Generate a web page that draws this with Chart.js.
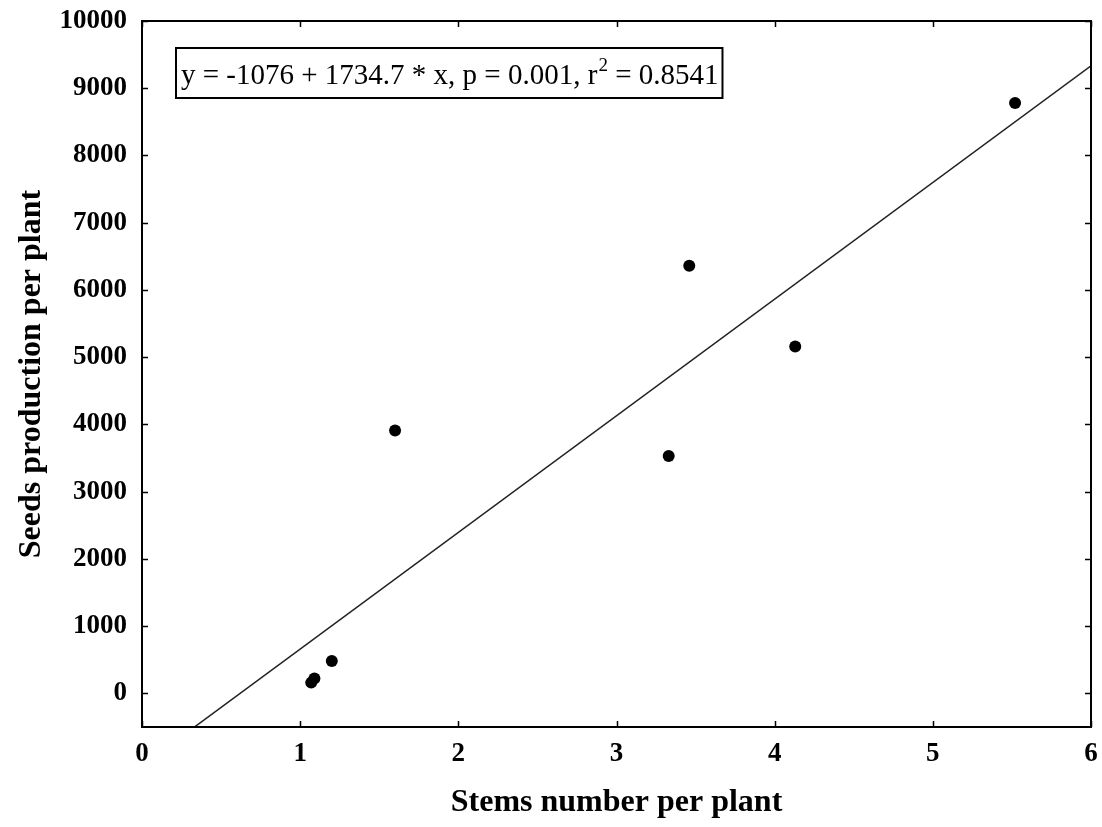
<!DOCTYPE html>
<html>
<head>
<meta charset="utf-8">
<script src="https://cdn.jsdelivr.net/npm/chart.js@4/dist/chart.umd.min.js"></script>
<style>
  html, body { margin: 0; padding: 0; background: #fff; }
  #wrap { width: 1102px; height: 827px; }
</style>
</head>
<body>
<div id="wrap"><canvas id="c" width="1102" height="827"></canvas></div>
<script>
// Observed data
const stems = [1.07, 1.09, 1.20, 1.60, 3.33, 3.46, 4.13, 5.52];
const seeds = [160, 220, 480, 3910, 3530, 6360, 5160, 8780];

// Regression line endpoints (y = -1076 + 1734.7 * x)
const fitX = [0, 6];
const fitY = [-1076, 9332];

// Axis tick values
const xTicks = [0, 1, 2, 3, 4, 5, 6];
const yTicks = [0, 1000, 2000, 3000, 4000, 5000, 6000, 7000, 8000, 9000, 10000];

// Texts
const xTitle = 'Stems number per plant';
const yTitle = 'Seeds production per plant';
const eqPart1 = 'y = -1076 + 1734.7 * x, p = 0.001, r';
const eqSup = '2';
const eqPart2 = ' = 0.8541';

const serif = '"Liberation Serif", "Times New Roman", serif';

const framePlugin = {
  id: 'framePlugin',
  afterDatasetsDraw(chart) {
    const { ctx, chartArea: a, scales: { x, y } } = chart;
    ctx.save();
    ctx.strokeStyle = '#000';
    ctx.lineWidth = 1.5;
    x.ticks.forEach(t => {
      const px = Math.round(x.getPixelForValue(t.value)) + 0.5;
      ctx.beginPath();
      ctx.moveTo(px, a.bottom); ctx.lineTo(px, a.bottom - 6);
      ctx.moveTo(px, a.top); ctx.lineTo(px, a.top + 6);
      ctx.stroke();
    });
    y.ticks.forEach(t => {
      const py = Math.round(y.getPixelForValue(t.value)) + 0.5;
      ctx.beginPath();
      ctx.moveTo(a.left, py); ctx.lineTo(a.left + 6, py);
      ctx.moveTo(a.right, py); ctx.lineTo(a.right - 6, py);
      ctx.stroke();
    });
    ctx.lineWidth = 2;
    ctx.strokeRect(a.left, a.top, a.right - a.left, a.bottom - a.top);

    // equation box
    const bx = a.left + 34, by = a.top + 27;
    const tx = bx + 5, ty = by + 36;
    ctx.fillStyle = '#000';
    ctx.textBaseline = 'alphabetic';
    ctx.textAlign = 'left';
    ctx.font = '29px ' + serif;
    const w1 = ctx.measureText(eqPart1).width;
    ctx.fillText(eqPart1, tx, ty);
    ctx.font = '19px ' + serif;
    const ws = ctx.measureText(eqSup).width;
    ctx.fillText(eqSup, tx + w1 + 1, ty - 13);
    ctx.font = '29px ' + serif;
    const w2 = ctx.measureText(eqPart2).width;
    ctx.fillText(eqPart2, tx + w1 + 1 + ws, ty);
    const bw = (tx + w1 + 1 + ws + w2 + 4) - bx;
    ctx.lineWidth = 2;
    ctx.strokeRect(bx, by, bw, 50);
    ctx.restore();
  }
};

new Chart(document.getElementById('c'), {
  type: 'scatter',
  data: {
    datasets: [
      {
        label: 'fit',
        data: fitX.map((v, i) => ({ x: v, y: fitY[i] })),
        showLine: true,
        borderColor: '#222',
        borderWidth: 1.5,
        pointRadius: 0,
        pointHoverRadius: 0,
        fill: false
      },
      {
        label: 'data',
        data: stems.map((v, i) => ({ x: v, y: seeds[i] })),
        pointRadius: 6,
        pointBackgroundColor: '#000',
        pointBorderColor: '#000',
        pointBorderWidth: 0
      }
    ]
  },
  options: {
    responsive: false,
    animation: false,
    events: [],
    layout: { padding: { top: 21, right: 11, left: 0, bottom: 0 } },
    plugins: { legend: { display: false }, tooltip: { enabled: false } },
    scales: {
      x: {
        type: 'linear',
        min: 0, max: 6,
        afterBuildTicks: s => { s.ticks = xTicks.map(v => ({ value: v })); },
        afterFit: s => { s.height = 100; s.paddingLeft = 0; s.paddingRight = 0; },
        grid: { display: false, drawTicks: false },
        border: { display: false },
        ticks: {
          padding: 11,
          color: '#000',
          font: { family: serif, size: 27, weight: 'bold' },
          maxRotation: 0
        },
        title: {
          display: true,
          text: xTitle,
          color: '#000',
          font: { family: serif, size: 32, weight: 'bold' },
          padding: { top: 0, bottom: 5 }
        }
      },
      y: {
        type: 'linear',
        min: -500, max: 10000,
        afterBuildTicks: s => { s.ticks = yTicks.map(v => ({ value: v })); },
        afterFit: s => { s.width = 142; s.paddingTop = 0; s.paddingBottom = 0; },
        grid: { display: false, drawTicks: false },
        border: { display: false },
        ticks: {
          padding: 15,
          color: '#000',
          font: { family: serif, size: 27, weight: 'bold' },
          callback: v => String(v)
        },
        title: {
          display: true,
          text: yTitle,
          color: '#000',
          font: { family: serif, size: 32, weight: 'bold' },
          padding: { top: 13, bottom: 0 }
        }
      }
    }
  },
  plugins: [framePlugin]
});
</script>
</body>
</html>
